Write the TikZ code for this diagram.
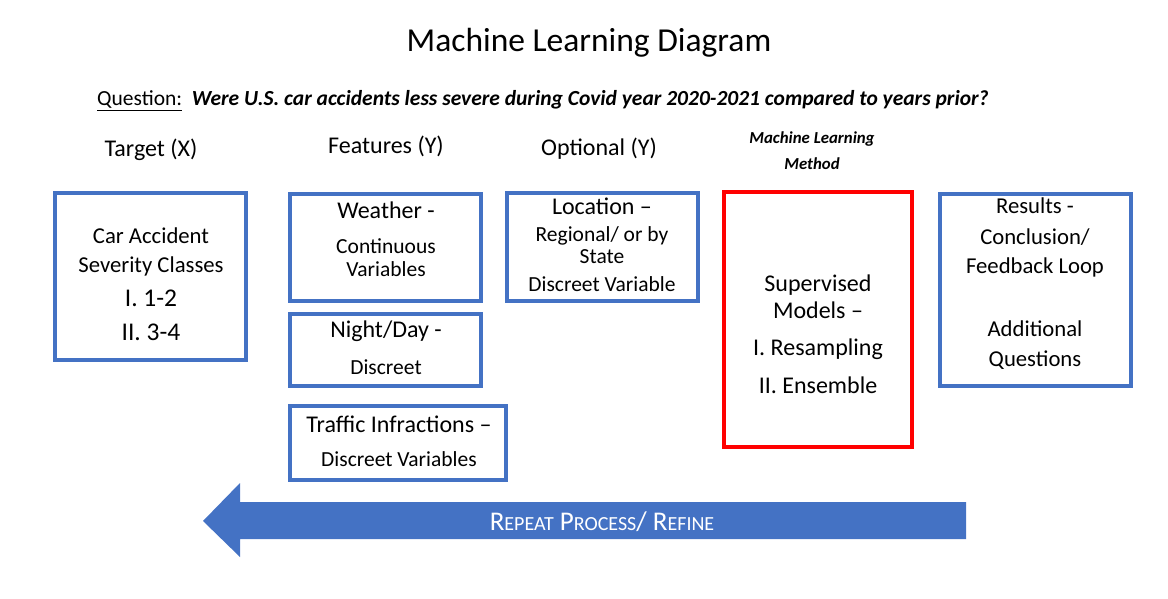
\documentclass[tikz,border=0pt]{standalone}
\usepackage{fontspec}
\setmainfont{Carlito}
\definecolor{boxblue}{HTML}{4472C4}
\definecolor{boxred}{HTML}{FF0000}
\newcommand{\fakesc}[2]{#1{\fontsize{20}{22}\selectfont #2}}
\tikzset{
  bluebox/.style={draw=boxblue, line width=4pt, inner sep=0pt},
  redbox/.style={draw=boxred, line width=4pt, inner sep=0pt},
  txt/.style={inner sep=0pt, font=\fontsize{21.5}{24}\selectfont, text=black},
  txtm/.style={inner sep=0pt, font=\fontsize{22.7}{26}\selectfont, text=black},
  txtl/.style={inner sep=0pt, font=\fontsize{24}{28}\selectfont, text=black},
  big/.style={inner sep=0pt, font=\fontsize{25.5}{28}\selectfont, text=black},
  mlhead/.style={inner sep=0pt, font=\fontsize{16.8}{19}\selectfont\bfseries\itshape}
}
\begin{document}
\begin{tikzpicture}[x=1pt,y=-1pt]
\useasboundingbox (0,0) rectangle (1168,599);
% title
\node[inner sep=0pt, font=\fontsize{33.5}{38}\selectfont] (title) at (589,43) {Machine Learning Diagram};
% question
\node[inner sep=0pt, anchor=base west, font=\fontsize{21.5}{24}\selectfont] (q) at (97,106) {\underline{Question:}\ \ \textbf{\textit{Were U.S. car accidents less severe during Covid year 2020-2021 compared to years prior?}}};
% headers
\node[txtl] (h1) at (151,150) {Target (X)};
\node[txtl] (h2) at (386,146) {Features (Y)};
\node[txtl] (h3) at (599,149) {Optional (Y)};
\node[mlhead] (h4a) at (812,139) {Machine Learning};
\node[mlhead] (h4b) at (812,164) {Method};
% boxes
\draw[bluebox] (55,193) rectangle (246,360);
\draw[bluebox] (290,194) rectangle (481,301);
\draw[bluebox] (290,314) rectangle (481,386);
\draw[bluebox] (290,406) rectangle (506,480);
\draw[bluebox] (507,193) rectangle (698,301);
\draw[redbox] (724,192) rectangle (912,447);
\draw[bluebox] (940,194) rectangle (1131,386);
% target text
\node[txtm] (t1) at (151,236) {Car Accident};
\node[txtm] (t2) at (151,266) {Severity Classes};
\node[big] (t3) at (151,298) {I. 1-2};
\node[big] (t4) at (151,332) {II. 3-4};
% weather
\node[txtl] (w1) at (386,210) {Weather -};
\node[txt] (w2) at (386,246) {Continuous};
\node[txt] (w3) at (386,269) {Variables};
% night/day
\node[txtl] (n1) at (386,331) {Night/Day -};
\node[txt] (n2) at (386,367) {Discreet};
% traffic
\node[txtl] (f1) at (399,424) {Traffic Infractions –};
\node[txt] (f2) at (399,459) {Discreet Variables};
% location
\node[txtl] (l1) at (602,206) {Location –};
\node[txt] (l2) at (602,236) {Regional/ or by};
\node[txt] (l3) at (602,257) {State};
\node[txt] (l4) at (602,284) {Discreet Variable};
% supervised
\node[txtl] (s1) at (818,285) {Supervised};
\node[txtl] (s2) at (818,310) {Models –};
\node[txtl] (s3) at (818,349) {I. Resampling};
\node[txtl] (s4) at (818,385) {II. Ensemble};
% results
\node[txtm] (r1) at (1035,206) {Results -};
\node[txtm] (r2) at (1035,237) {Conclusion/};
\node[txtm] (r3) at (1035,267) {Feedback Loop};
\node[txtm] (r4) at (1035,329) {Additional};
\node[txtm] (r5) at (1035,360) {Questions};
% arrow
\fill[boxblue] (966,502) -- (240,502) -- (240,483) -- (203,521) -- (240,557) -- (240,539) -- (966,539) -- cycle;
\node[inner sep=0pt, text=white, font=\fontsize{27}{30}\selectfont] (arr) at (602,522) {\fakesc{R}{EPEAT} \fakesc{P}{ROCESS}/ \fakesc{R}{EFINE}};
\end{tikzpicture}
\end{document}
